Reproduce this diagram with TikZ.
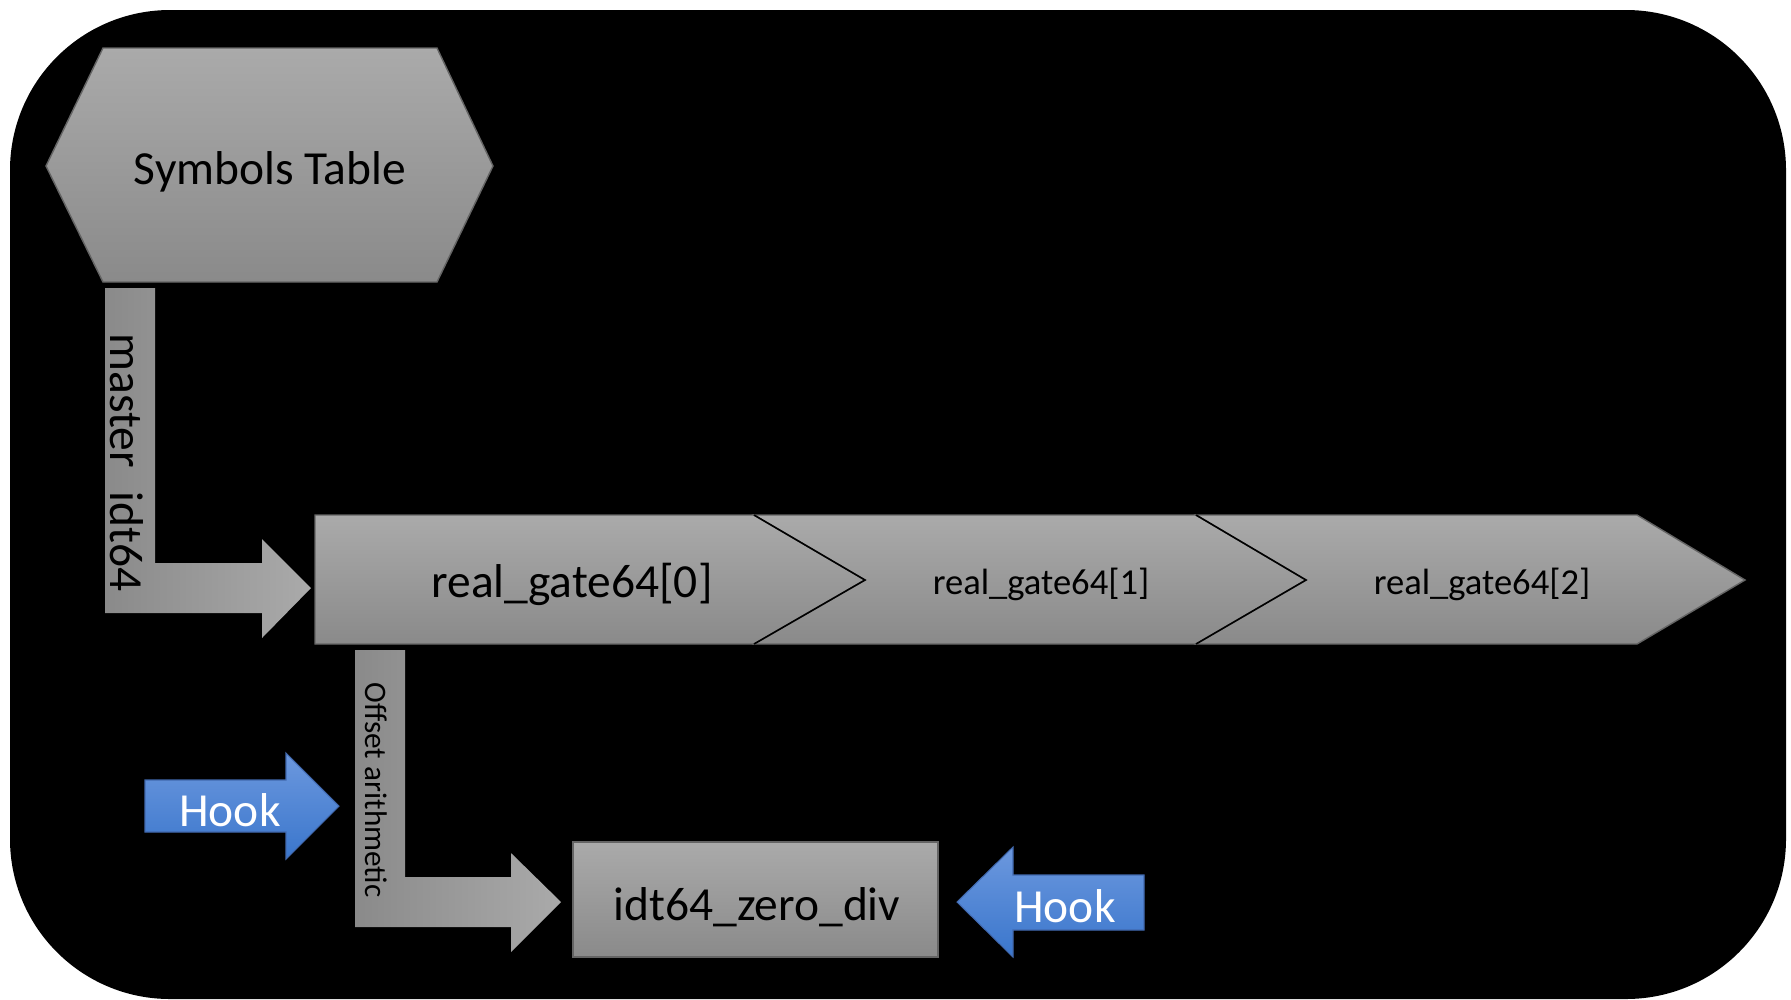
\documentclass[tikz,border=0pt]{standalone}
\usepackage{fontspec}
\setmainfont{Carlito}
\definecolor{boxtop}{RGB}{170,170,170}
\definecolor{boxbot}{RGB}{138,138,138}
\definecolor{boxline}{RGB}{100,100,100}
\definecolor{hooktop}{RGB}{108,152,222}
\definecolor{hookbot}{RGB}{58,118,204}
\definecolor{hookline}{RGB}{65,105,175}
\tikzset{
  graybox/.style={top color=boxtop, bottom color=boxbot, draw=boxline, line width=0.4pt},
  grayflow/.style={left color=boxbot, right color=boxtop},
  hookarrow/.style={top color=hooktop, bottom color=hookbot, draw=hookline, line width=0.3pt},
  divider/.style={draw=black, line width=0.45pt},
  bigtext/.style={font=\fontsize{13.5}{16}\selectfont, inner sep=0pt, text=black},
  midtext/.style={font=\fontsize{10.4}{12.5}\selectfont, inner sep=0pt, text=black},
  smalltext/.style={font=\fontsize{8.9}{10.5}\selectfont, inner sep=0pt, text=black},
  hooktext/.style={bigtext, text=white},
}
\begin{document}
\begin{tikzpicture}[x=0.01cm, y=-0.01cm]
\useasboundingbox (0,0) rectangle (1791,999);
\fill[white] (0,0) rectangle (1791,999);

% dark rounded panel
\fill[black, rounded corners=1.6cm] (10,10) rectangle (1786,999);

% symbols table hexagon
\draw[graybox] (46,166) -- (103,48) -- (437,48) -- (493,166) -- (437,282) -- (103,282) -- cycle;
\node[bigtext, anchor=base] (symtab) at (270,184) {Symbols Table};

% master_idt64 bent arrow
\fill[grayflow] (105,288) -- (155,288) -- (155,563) -- (262,563) -- (262,539)
  -- (311,588) -- (262,638) -- (262,613) -- (105,613) -- cycle;
\node[bigtext, rotate=-90, anchor=base west] (master) at (110,333) {master\hspace{0.5em}idt64};

% real_gate64 array: home plate followed by two chevrons
\draw[graybox] (315,515) -- (754,515) -- (865,580) -- (754,644) -- (315,644) -- cycle;
\draw[graybox] (754,515) -- (1196,515) -- (1306,580) -- (1196,644) -- (754,644) -- (865,580) -- cycle;
\draw[graybox] (1196,515) -- (1637,515) -- (1745,580) -- (1637,644) -- (1196,644) -- (1306,580) -- cycle;
\draw[divider] (754,515) -- (865,580) -- (754,644);
\draw[divider] (1196,515) -- (1306,580) -- (1196,644);
\node[bigtext, anchor=base] (gate0) at (572,597) {real\_gate64[0]};
\node[midtext, anchor=base] (gate1) at (1041,594) {real\_gate64[1]};
\node[midtext, anchor=base] (gate2) at (1482,594) {real\_gate64[2]};

% offset arithmetic bent arrow
\fill[grayflow] (355,650) -- (405,650) -- (405,877) -- (511,877) -- (511,853)
  -- (561,902) -- (511,952) -- (511,927) -- (355,927) -- cycle;
\node[smalltext, rotate=-90, anchor=base west] (offset) at (365,682) {Offset arithmetic};

% target handler
\draw[graybox] (573,842) rectangle (938,957);
\node[bigtext, anchor=base] (zerodiv) at (757,920) {idt64\_zero\_div};

% hooks
\draw[hookarrow] (145,780) -- (286,780) -- (286,753) -- (339,806) -- (286,859) -- (286,832) -- (145,832) -- cycle;
\node[hooktext, anchor=base] (hookA) at (230,826) {Hook};
\draw[hookarrow] (1144,875) -- (1013,875) -- (1013,847) -- (957,902) -- (1013,957) -- (1013,930) -- (1144,930) -- cycle;
\node[hooktext, anchor=base] (hookB) at (1065,922) {Hook};
\end{tikzpicture}
\end{document}
